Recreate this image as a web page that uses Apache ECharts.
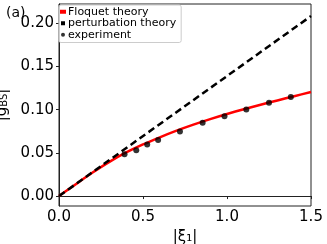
<!DOCTYPE html>
<html><head><meta charset="utf-8">
<script src="https://cdn.jsdelivr.net/npm/echarts@6/dist/echarts.min.js"></script>
<style>html,body{margin:0;padding:0;background:#fff}#c{width:327px;height:244px}</style>
</head><body><div id="c"></div>
<script>
var floquetX = [0,0.1,0.2,0.3,0.4,0.5,0.6,0.7,0.8,0.9,1.0,1.1,1.2,1.3,1.4,1.5];
var floquetY = [0,0.0138,0.0273,0.0397,0.0505,0.0598,0.0681,0.0758,0.0828,0.0892,0.0951,0.1006,0.1058,0.1108,0.1157,0.1205];
var pertX = [0,1.5];
var pertY = [0,0.2085];
var expX = [0.39,0.46,0.525,0.59,0.72,0.855,0.985,1.115,1.25,1.38];
var expY = [0.0484,0.053,0.0596,0.065,0.0749,0.0849,0.0925,0.1002,0.108,0.1149];
var yTicks = [0,0.05,0.10,0.15,0.20];
var xTicks = [0,0.5,1.0,1.5];

function zip(a,b){return a.map(function(v,i){return [v,b[i]];});}
var F = 'DejaVu Sans';
var chart = echarts.init(document.getElementById('c'), null, {renderer:'canvas'});
chart.setOption({
  animation:false,
  textStyle:{fontFamily:F},
  title:{text:'(a)', left:1, top:1, textStyle:{fontFamily:F, fontSize:14, fontWeight:'normal', color:'#000'}},
  grid:{left:59, right:16, top:4, bottom:38, show:true, borderColor:'#222', borderWidth:1, backgroundColor:'transparent', outerBoundsMode:'none', containLabel:false},
  legend:{
    orient:'vertical', left:59, top:5, itemWidth:6, itemHeight:4, itemGap:0,
    padding:[1,5,2,1], borderColor:'#ccc', borderWidth:1, borderRadius:2,
    backgroundColor:'rgba(255,255,255,0.8)',
    textStyle:{fontFamily:F, fontSize:11, color:'#000', lineHeight:11.5, padding:[0,0,0,-3]},
    data:[
      {name:'Floquet theory', icon:'rect', itemStyle:{color:'#ff0000'}},
      {name:'perturbation theory', icon:'path://M0,0h3v3h-3z', itemStyle:{color:'#000'}},
      {name:'experiment', icon:'circle', itemStyle:{color:'#000'}}
    ]
  },
  xAxis:{
    type:'value', min:0, max:1.5, interval:0.5,
    name:'|ξ\u2081|', nameLocation:'middle', nameGap:19,
    nameTextStyle:{fontFamily:F, fontSize:15, color:'#000'},
    axisLine:{show:true, lineStyle:{color:'#222', width:1}},
    axisTick:{show:true, length:3, lineStyle:{color:'#222'}, customValues:xTicks},
    axisLabel:{fontFamily:F, fontSize:15, color:'#000', margin:4, customValues:xTicks,
      formatter:function(v){return v.toFixed(1);}},
    splitLine:{show:false}
  },
  yAxis:{
    type:'value', min:-0.0115, max:0.2225,
    name:'{a||\u1E21}{b|BS}{a||}', nameLocation:'middle', nameGap:40, nameRotate:90,
    nameTextStyle:{fontFamily:F, fontSize:15, color:'#000',
      rich:{a:{fontFamily:F, fontSize:15, color:'#000'}, b:{fontFamily:F, fontSize:10, color:'#000', verticalAlign:'bottom', padding:[5,0,0,0]}}},
    axisLine:{show:true, lineStyle:{color:'#222', width:1}},
    axisTick:{show:true, length:3, lineStyle:{color:'#222'}, customValues:yTicks},
    axisLabel:{fontFamily:F, fontSize:15, color:'#000', margin:5, customValues:yTicks,
      formatter:function(v){return v.toFixed(2);}},
    splitLine:{show:false}
  },
  series:[
    {name:'Floquet theory', type:'line', data:zip(floquetX,floquetY), smooth:0.3, showSymbol:false,
      lineStyle:{color:'#ff0000', width:2.5}, itemStyle:{color:'#ff0000'}, z:2},
    {name:'perturbation theory', type:'line', data:zip(pertX,pertY), showSymbol:false,
      lineStyle:{color:'#000', width:2.5, type:[7,4]}, itemStyle:{color:'#000'}, z:3},
    {name:'experiment', type:'scatter', data:zip(expX,expY), symbolSize:6,
      itemStyle:{color:'#000'}, z:4}
  ]
});
</script></body></html>
